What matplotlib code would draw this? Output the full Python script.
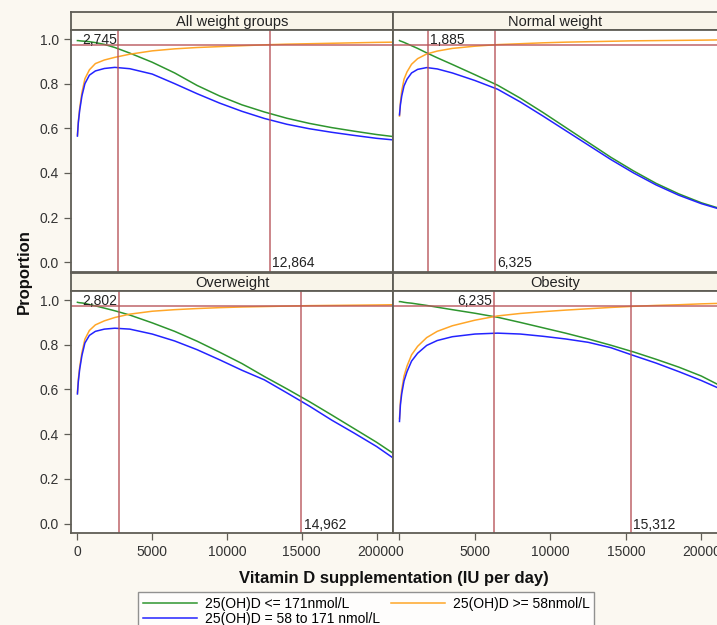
import matplotlib.pyplot as plt
from matplotlib.lines import Line2D

plt.rcParams['font.family'] = ['Liberation Sans', 'DejaVu Sans']

# vitamin D dose (IU/day) at which the curves were read
dose = [0, 60, 150, 300, 500, 800, 1200, 1800, 2500, 3500, 5000, 6500,
        8000, 9500, 11000, 12500, 14000, 15500, 17000, 18500, 20000, 21100]

panels = ["All weight groups", "Normal weight", "Overweight", "Obesity"]

# 25(OH)D <= 171 nmol/L
green = [
    [0.993, 0.993, 0.992, 0.991, 0.990, 0.988, 0.984, 0.976, 0.962, 0.937, 0.896,
     0.848, 0.792, 0.745, 0.705, 0.673, 0.645, 0.622, 0.603, 0.587, 0.572, 0.563],
    [0.993, 0.991, 0.989, 0.985, 0.979, 0.970, 0.958, 0.938, 0.916, 0.886, 0.840,
     0.793, 0.735, 0.671, 0.604, 0.537, 0.470, 0.409, 0.353, 0.306, 0.266, 0.243],
    [0.990, 0.989, 0.988, 0.987, 0.985, 0.980, 0.974, 0.964, 0.952, 0.933, 0.898,
     0.860, 0.816, 0.767, 0.716, 0.658, 0.603, 0.546, 0.486, 0.425, 0.364, 0.315],
    [0.993, 0.993, 0.992, 0.990, 0.988, 0.986, 0.982, 0.976, 0.968, 0.957, 0.941,
     0.923, 0.900, 0.876, 0.852, 0.826, 0.798, 0.768, 0.735, 0.700, 0.660, 0.622],
]
# 25(OH)D >= 58 nmol/L
orange = [
    [0.570, 0.630, 0.690, 0.760, 0.822, 0.862, 0.890, 0.906, 0.918, 0.932, 0.947,
     0.956, 0.962, 0.966, 0.970, 0.974, 0.977, 0.979, 0.981, 0.983, 0.985, 0.986],
    [0.655, 0.715, 0.768, 0.820, 0.853, 0.887, 0.912, 0.933, 0.946, 0.958, 0.968,
     0.975, 0.979, 0.983, 0.986, 0.988, 0.990, 0.992, 0.993, 0.994, 0.995, 0.996],
    [0.585, 0.645, 0.700, 0.765, 0.825, 0.864, 0.889, 0.907, 0.922, 0.937, 0.950,
     0.957, 0.962, 0.966, 0.969, 0.971, 0.973, 0.975, 0.976, 0.977, 0.978, 0.979],
    [0.470, 0.545, 0.600, 0.660, 0.705, 0.755, 0.793, 0.832, 0.860, 0.885, 0.910,
     0.929, 0.940, 0.948, 0.955, 0.961, 0.967, 0.972, 0.976, 0.979, 0.983, 0.985],
]
# 25(OH)D = 58 to 171 nmol/L
blue = [
    [0.565, 0.625, 0.680, 0.745, 0.800, 0.838, 0.857, 0.868, 0.873, 0.867, 0.843,
     0.800, 0.755, 0.713, 0.676, 0.644, 0.618, 0.598, 0.582, 0.568, 0.555, 0.548],
    [0.660, 0.705, 0.745, 0.790, 0.820, 0.848, 0.864, 0.872, 0.866, 0.848, 0.814,
     0.775, 0.718, 0.655, 0.590, 0.525, 0.460, 0.400, 0.346, 0.300, 0.262, 0.240],
    [0.580, 0.635, 0.690, 0.752, 0.808, 0.842, 0.860, 0.870, 0.874, 0.870, 0.848,
     0.817, 0.778, 0.733, 0.686, 0.643, 0.585, 0.526, 0.463, 0.405, 0.345, 0.294],
    [0.457, 0.530, 0.582, 0.638, 0.680, 0.727, 0.762, 0.797, 0.819, 0.836, 0.848,
     0.852, 0.848, 0.838, 0.826, 0.811, 0.787, 0.752, 0.718, 0.680, 0.640, 0.607],
]

low_cut = [2745, 1885, 2802, 6235]
high_cut = [12864, 6325, 14962, 15312]
target = 0.975

W, H = 717, 625
fig = plt.figure(figsize=(W / 100, H / 100), dpi=100)
fig.patch.set_facecolor('#fbf8f1')

frame_col = '#5f5d55'
ref_col = '#b8545a'
c_green, c_orange, c_blue = '#2e952e', '#ffa628', '#2323ff'


def box(l, t, r, b):
    return [l / W, 1 - b / H, (r - l) / W, (b - t) / H]


cols = [(71, 393), (393, 718)]
rows = [(12, 30, 271.5), (272.5, 291, 533)]

for i, name in enumerate(panels):
    r, c = divmod(i, 2)
    l, rr = cols[c]
    st, sb, pb = rows[r]

    strip = fig.add_axes(box(l, st, rr, sb))
    strip.set_facecolor('#f9f5ea')
    strip.set_xticks([])
    strip.set_yticks([])
    for s in strip.spines.values():
        s.set_color(frame_col)
        s.set_linewidth(1.3)
    strip.text(0.5, 0.45, name, ha='center', va='center', fontsize=10.5,
               color='#222222', transform=strip.transAxes)

    ax = fig.add_axes(box(l, sb, rr, pb))
    ax.set_facecolor('white')
    ax.plot(dose, green[i], color=c_green, lw=1.1)
    ax.plot(dose, orange[i], color=c_orange, lw=1.1)
    ax.plot(dose, blue[i], color=c_blue, lw=1.1)

    ax.axhline(target, color=ref_col, lw=1.1, alpha=0.9)
    ax.axvline(low_cut[i], color=ref_col, lw=1.1, alpha=0.9)
    ax.axvline(high_cut[i], color=ref_col, lw=1.1, alpha=0.9)

    # low cut label goes left of its line unless it would hit the frame
    if low_cut[i] < 2500:
        ax.annotate(f"{low_cut[i]:,}", (low_cut[i], 0.978), xytext=(1.5, 0),
                    textcoords='offset points', ha='left', va='baseline',
                    fontsize=10, color='#222222')
    else:
        ax.annotate(f"{low_cut[i]:,}", (low_cut[i], 0.978), xytext=(-1.2, 0),
                    textcoords='offset points', ha='right', va='baseline',
                    fontsize=10, color='#222222')
    ax.annotate(f"{high_cut[i]:,}", (high_cut[i], -0.022), xytext=(1.8, 0),
                textcoords='offset points', ha='left', va='baseline',
                fontsize=10, color='#222222')

    ax.set_xlim(-430, 21100)
    ax.set_ylim(-0.042, 1.0405)
    for s in ax.spines.values():
        s.set_color(frame_col)
        s.set_linewidth(1.3)
    ax.tick_params(colors=frame_col, labelcolor='#333333', labelsize=10,
                   length=5, width=0.9, direction='out')
    if c == 0:
        ax.set_yticks([0.0, 0.2, 0.4, 0.6, 0.8, 1.0])
        ax.set_yticklabels(['0.0', '0.2', '0.4', '0.6', '0.8', '1.0'])
    else:
        ax.set_yticks([])
    if r == 1:
        ax.set_xticks([0, 5000, 10000, 15000, 20000])
        ax.set_xticklabels(['0', '5000', '10000', '15000', '20000'])
    else:
        ax.set_xticks([])

fig.text(24 / W, 1 - 272 / H, 'Proportion', rotation=90, ha='center',
         va='center', fontsize=12, fontweight='bold', color='#111111')
fig.text(394 / W, 1 - 578 / H, 'Vitamin D supplementation (IU per day)',
         ha='center', va='center', fontsize=12, fontweight='bold',
         color='#111111')

handles = [
    Line2D([], [], color=c_green, lw=1.1),
    Line2D([], [], color=c_blue, lw=1.1),
    Line2D([], [], color=c_orange, lw=1.1),
]
labels = ['25(OH)D <= 171nmol/L', '25(OH)D = 58 to 171 nmol/L',
          '25(OH)D >= 58nmol/L']
leg = fig.legend(handles, labels, loc='upper left',
                 bbox_to_anchor=(138 / W, 1 - 592 / H), ncol=2, fontsize=10,
                 frameon=True, fancybox=False, borderpad=0.35,
                 handlelength=3.9, handletextpad=0.55, columnspacing=0.8,
                 labelspacing=0.05, borderaxespad=0)
leg.get_frame().set_edgecolor('#777777')
leg.get_frame().set_linewidth(1.0)
leg.get_frame().set_facecolor('white')

fig.savefig('out.png', dpi=100, facecolor=fig.get_facecolor())
